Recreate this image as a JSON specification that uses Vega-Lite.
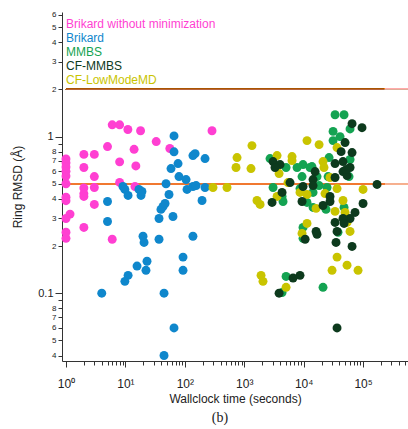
{
  "$schema": "https://vega.github.io/schema/vega-lite/v6.json",
  "width": 346,
  "height": 349,
  "autosize": "none",
  "padding": {"left": 62, "top": 12, "right": 0, "bottom": 68},
  "config": {
    "view": {"stroke": null},
    "font": "Liberation Sans",
    "axis": {"grid": false, "domainColor": "#333333", "tickColor": "#333333", "labelColor": "#222222", "titleColor": "#222222", "titleFont": "Liberation Sans", "labelFont": "Liberation Sans", "titleFontWeight": "normal", "titleFontSize": 12}
  },
  "title": {"text": "(b)", "orient": "bottom", "font": "Liberation Serif", "fontSize": 14, "fontWeight": "normal", "color": "#222222", "anchor": "middle", "dx": -15, "offset": 7},
  "data": {"values": [
    {"series": "Brikard without minimization", "time": 1, "rmsd": 0.72},
    {"series": "Brikard without minimization", "time": 1, "rmsd": 0.68},
    {"series": "Brikard without minimization", "time": 1, "rmsd": 0.64},
    {"series": "Brikard without minimization", "time": 1, "rmsd": 0.6},
    {"series": "Brikard without minimization", "time": 1, "rmsd": 0.56},
    {"series": "Brikard without minimization", "time": 1, "rmsd": 0.5},
    {"series": "Brikard without minimization", "time": 1, "rmsd": 0.41},
    {"series": "Brikard without minimization", "time": 1, "rmsd": 0.39},
    {"series": "Brikard without minimization", "time": 1.17, "rmsd": 0.32},
    {"series": "Brikard without minimization", "time": 1, "rmsd": 0.3},
    {"series": "Brikard without minimization", "time": 1, "rmsd": 0.245},
    {"series": "Brikard without minimization", "time": 1, "rmsd": 0.224},
    {"series": "Brikard without minimization", "time": 2, "rmsd": 0.77},
    {"series": "Brikard without minimization", "time": 2, "rmsd": 0.635},
    {"series": "Brikard without minimization", "time": 2, "rmsd": 0.47},
    {"series": "Brikard without minimization", "time": 2, "rmsd": 0.433},
    {"series": "Brikard without minimization", "time": 2, "rmsd": 0.415},
    {"series": "Brikard without minimization", "time": 2, "rmsd": 0.263},
    {"series": "Brikard without minimization", "time": 3, "rmsd": 0.77},
    {"series": "Brikard without minimization", "time": 3, "rmsd": 0.556},
    {"series": "Brikard without minimization", "time": 3, "rmsd": 0.473},
    {"series": "Brikard without minimization", "time": 3, "rmsd": 0.369},
    {"series": "Brikard without minimization", "time": 5, "rmsd": 0.864},
    {"series": "Brikard without minimization", "time": 6, "rmsd": 1.19},
    {"series": "Brikard without minimization", "time": 8, "rmsd": 1.19},
    {"series": "Brikard without minimization", "time": 11, "rmsd": 1.11},
    {"series": "Brikard without minimization", "time": 18, "rmsd": 1.09},
    {"series": "Brikard without minimization", "time": 8, "rmsd": 0.69},
    {"series": "Brikard without minimization", "time": 8, "rmsd": 0.51},
    {"series": "Brikard without minimization", "time": 14, "rmsd": 0.83},
    {"series": "Brikard without minimization", "time": 15, "rmsd": 0.65},
    {"series": "Brikard without minimization", "time": 14.5, "rmsd": 0.48},
    {"series": "Brikard without minimization", "time": 33, "rmsd": 0.93},
    {"series": "Brikard without minimization", "time": 56, "rmsd": 0.84},
    {"series": "Brikard without minimization", "time": 6, "rmsd": 0.221},
    {"series": "Brikard without minimization", "time": 287, "rmsd": 1.09},
    {"series": "Brikard", "time": 4, "rmsd": 0.1},
    {"series": "Brikard", "time": 5, "rmsd": 0.385},
    {"series": "Brikard", "time": 5, "rmsd": 0.287},
    {"series": "Brikard", "time": 9.1, "rmsd": 0.48},
    {"series": "Brikard", "time": 9.8, "rmsd": 0.46},
    {"series": "Brikard", "time": 11.1, "rmsd": 0.421},
    {"series": "Brikard", "time": 16.9, "rmsd": 0.46},
    {"series": "Brikard", "time": 18.3, "rmsd": 0.421},
    {"series": "Brikard", "time": 19, "rmsd": 0.446},
    {"series": "Brikard", "time": 19.8, "rmsd": 0.231},
    {"series": "Brikard", "time": 20.6, "rmsd": 0.211},
    {"series": "Brikard", "time": 15.7, "rmsd": 0.149},
    {"series": "Brikard", "time": 23.1, "rmsd": 0.16},
    {"series": "Brikard", "time": 22.2, "rmsd": 0.14},
    {"series": "Brikard", "time": 11.1, "rmsd": 0.13},
    {"series": "Brikard", "time": 9.8, "rmsd": 0.119},
    {"series": "Brikard", "time": 36.8, "rmsd": 0.221},
    {"series": "Brikard", "time": 36.8, "rmsd": 0.3},
    {"series": "Brikard", "time": 39.7, "rmsd": 0.343},
    {"series": "Brikard", "time": 43, "rmsd": 0.358},
    {"series": "Brikard", "time": 46.5, "rmsd": 0.374},
    {"series": "Brikard", "time": 54.2, "rmsd": 0.427},
    {"series": "Brikard", "time": 63.2, "rmsd": 0.309},
    {"series": "Brikard", "time": 48.3, "rmsd": 0.5},
    {"series": "Brikard", "time": 58.6, "rmsd": 0.625},
    {"series": "Brikard", "time": 76.9, "rmsd": 0.673},
    {"series": "Brikard", "time": 65.8, "rmsd": 1.01},
    {"series": "Brikard", "time": 65.8, "rmsd": 0.8},
    {"series": "Brikard", "time": 79.8, "rmsd": 0.556},
    {"series": "Brikard", "time": 105, "rmsd": 0.532},
    {"series": "Brikard", "time": 109, "rmsd": 0.46},
    {"series": "Brikard", "time": 137, "rmsd": 0.48},
    {"series": "Brikard", "time": 155, "rmsd": 0.487},
    {"series": "Brikard", "time": 137, "rmsd": 0.757},
    {"series": "Brikard", "time": 149, "rmsd": 0.779},
    {"series": "Brikard", "time": 219, "rmsd": 0.724},
    {"series": "Brikard", "time": 219, "rmsd": 0.473},
    {"series": "Brikard", "time": 195, "rmsd": 0.391},
    {"series": "Brikard", "time": 137, "rmsd": 0.231},
    {"series": "Brikard", "time": 93.3, "rmsd": 0.17},
    {"series": "Brikard", "time": 93.3, "rmsd": 0.14},
    {"series": "Brikard", "time": 65.8, "rmsd": 0.06},
    {"series": "Brikard", "time": 44.7, "rmsd": 0.04},
    {"series": "Brikard", "time": 44.7, "rmsd": 0.1},
    {"series": "MMBS", "time": 33800, "rmsd": 1.38},
    {"series": "MMBS", "time": 47900, "rmsd": 1.38},
    {"series": "MMBS", "time": 31300, "rmsd": 1.08},
    {"series": "MMBS", "time": 60400, "rmsd": 1.12},
    {"series": "MMBS", "time": 31300, "rmsd": 0.943},
    {"series": "MMBS", "time": 41000, "rmsd": 1.0},
    {"series": "MMBS", "time": 60400, "rmsd": 0.714},
    {"series": "MMBS", "time": 26800, "rmsd": 0.735},
    {"series": "MMBS", "time": 13800, "rmsd": 0.644},
    {"series": "MMBS", "time": 9770, "rmsd": 0.663},
    {"series": "MMBS", "time": 7750, "rmsd": 0.635},
    {"series": "MMBS", "time": 5060, "rmsd": 0.635},
    {"series": "MMBS", "time": 2720, "rmsd": 0.724},
    {"series": "MMBS", "time": 9400, "rmsd": 0.556},
    {"series": "MMBS", "time": 58100, "rmsd": 0.556},
    {"series": "MMBS", "time": 25800, "rmsd": 0.556},
    {"series": "MMBS", "time": 3060, "rmsd": 0.473},
    {"series": "MMBS", "time": 18200, "rmsd": 0.487},
    {"series": "MMBS", "time": 16800, "rmsd": 0.556},
    {"series": "MMBS", "time": 14400, "rmsd": 0.44},
    {"series": "MMBS", "time": 14400, "rmsd": 0.353},
    {"series": "MMBS", "time": 23800, "rmsd": 0.343},
    {"series": "MMBS", "time": 9770, "rmsd": 0.263},
    {"series": "MMBS", "time": 9770, "rmsd": 0.224},
    {"series": "MMBS", "time": 37900, "rmsd": 0.245},
    {"series": "MMBS", "time": 5060, "rmsd": 0.128},
    {"series": "MMBS", "time": 4330, "rmsd": 0.101},
    {"series": "MMBS", "time": 21200, "rmsd": 0.109},
    {"series": "MMBS", "time": 4330, "rmsd": 0.415},
    {"series": "MMBS", "time": 11400, "rmsd": 0.38},
    {"series": "MMBS", "time": 47900, "rmsd": 0.353},
    {"series": "MMBS", "time": 12800, "rmsd": 0.635},
    {"series": "MMBS", "time": 24800, "rmsd": 0.473},
    {"series": "MMBS", "time": 4500, "rmsd": 0.385},
    {"series": "MMBS", "time": 8690, "rmsd": 0.466},
    {"series": "CF-LowModeMD", "time": 298, "rmsd": 0.473},
    {"series": "CF-LowModeMD", "time": 513, "rmsd": 0.473},
    {"series": "CF-LowModeMD", "time": 757, "rmsd": 0.735},
    {"series": "CF-LowModeMD", "time": 728, "rmsd": 0.635},
    {"series": "CF-LowModeMD", "time": 1350, "rmsd": 0.876},
    {"series": "CF-LowModeMD", "time": 1300, "rmsd": 0.625},
    {"series": "CF-LowModeMD", "time": 1640, "rmsd": 0.391},
    {"series": "CF-LowModeMD", "time": 1850, "rmsd": 0.369},
    {"series": "CF-LowModeMD", "time": 3570, "rmsd": 0.757},
    {"series": "CF-LowModeMD", "time": 3860, "rmsd": 0.581},
    {"series": "CF-LowModeMD", "time": 6380, "rmsd": 0.746},
    {"series": "CF-LowModeMD", "time": 6380, "rmsd": 0.703},
    {"series": "CF-LowModeMD", "time": 3570, "rmsd": 0.415},
    {"series": "CF-LowModeMD", "time": 1920, "rmsd": 0.13},
    {"series": "CF-LowModeMD", "time": 2070, "rmsd": 0.119},
    {"series": "CF-LowModeMD", "time": 5060, "rmsd": 0.109},
    {"series": "CF-LowModeMD", "time": 11400, "rmsd": 0.943},
    {"series": "CF-LowModeMD", "time": 18200, "rmsd": 0.889},
    {"series": "CF-LowModeMD", "time": 21200, "rmsd": 0.693},
    {"series": "CF-LowModeMD", "time": 22000, "rmsd": 0.635},
    {"series": "CF-LowModeMD", "time": 27800, "rmsd": 0.548},
    {"series": "CF-LowModeMD", "time": 36500, "rmsd": 0.466},
    {"series": "CF-LowModeMD", "time": 46000, "rmsd": 0.391},
    {"series": "CF-LowModeMD", "time": 33800, "rmsd": 0.333},
    {"series": "CF-LowModeMD", "time": 53800, "rmsd": 0.283},
    {"series": "CF-LowModeMD", "time": 60400, "rmsd": 0.248},
    {"series": "CF-LowModeMD", "time": 36500, "rmsd": 0.17},
    {"series": "CF-LowModeMD", "time": 53800, "rmsd": 0.151},
    {"series": "CF-LowModeMD", "time": 82400, "rmsd": 0.14},
    {"series": "CF-LowModeMD", "time": 30100, "rmsd": 0.14},
    {"series": "CF-LowModeMD", "time": 11400, "rmsd": 0.279},
    {"series": "CF-LowModeMD", "time": 9400, "rmsd": 0.241},
    {"series": "CF-LowModeMD", "time": 100000, "rmsd": 0.46},
    {"series": "CF-LowModeMD", "time": 16200, "rmsd": 0.348},
    {"series": "CF-LowModeMD", "time": 11400, "rmsd": 0.427},
    {"series": "CF-LowModeMD", "time": 36500, "rmsd": 0.851},
    {"series": "CF-LowModeMD", "time": 22900, "rmsd": 0.433},
    {"series": "CF-LowModeMD", "time": 49800, "rmsd": 0.328},
    {"series": "CF-LowModeMD", "time": 5460, "rmsd": 0.509},
    {"series": "CF-LowModeMD", "time": 8690, "rmsd": 0.44},
    {"series": "CF-MMBS", "time": 65300, "rmsd": 1.21},
    {"series": "CF-MMBS", "time": 96000, "rmsd": 1.14},
    {"series": "CF-MMBS", "time": 49800, "rmsd": 0.916},
    {"series": "CF-MMBS", "time": 42700, "rmsd": 0.802},
    {"series": "CF-MMBS", "time": 65300, "rmsd": 0.791},
    {"series": "CF-MMBS", "time": 33800, "rmsd": 0.673},
    {"series": "CF-MMBS", "time": 46000, "rmsd": 0.693},
    {"series": "CF-MMBS", "time": 60400, "rmsd": 0.635},
    {"series": "CF-MMBS", "time": 46000, "rmsd": 0.598},
    {"series": "CF-MMBS", "time": 53800, "rmsd": 0.564},
    {"series": "CF-MMBS", "time": 15600, "rmsd": 0.598},
    {"series": "CF-MMBS", "time": 33800, "rmsd": 0.548},
    {"series": "CF-MMBS", "time": 14400, "rmsd": 0.532},
    {"series": "CF-MMBS", "time": 3060, "rmsd": 0.693},
    {"series": "CF-MMBS", "time": 4010, "rmsd": 0.663},
    {"series": "CF-MMBS", "time": 3300, "rmsd": 0.635},
    {"series": "CF-MMBS", "time": 5900, "rmsd": 0.509},
    {"series": "CF-MMBS", "time": 9770, "rmsd": 0.48},
    {"series": "CF-MMBS", "time": 14400, "rmsd": 0.487},
    {"series": "CF-MMBS", "time": 172000, "rmsd": 0.495},
    {"series": "CF-MMBS", "time": 4330, "rmsd": 0.44},
    {"series": "CF-MMBS", "time": 27800, "rmsd": 0.415},
    {"series": "CF-MMBS", "time": 27800, "rmsd": 0.385},
    {"series": "CF-MMBS", "time": 2940, "rmsd": 0.38},
    {"series": "CF-MMBS", "time": 9400, "rmsd": 0.385},
    {"series": "CF-MMBS", "time": 21200, "rmsd": 0.363},
    {"series": "CF-MMBS", "time": 100000, "rmsd": 0.374},
    {"series": "CF-MMBS", "time": 73300, "rmsd": 0.328},
    {"series": "CF-MMBS", "time": 60400, "rmsd": 0.3},
    {"series": "CF-MMBS", "time": 46000, "rmsd": 0.3},
    {"series": "CF-MMBS", "time": 47900, "rmsd": 0.279},
    {"series": "CF-MMBS", "time": 33800, "rmsd": 0.283},
    {"series": "CF-MMBS", "time": 36500, "rmsd": 0.248},
    {"series": "CF-MMBS", "time": 16200, "rmsd": 0.248},
    {"series": "CF-MMBS", "time": 16800, "rmsd": 0.238},
    {"series": "CF-MMBS", "time": 10600, "rmsd": 0.221},
    {"series": "CF-MMBS", "time": 35100, "rmsd": 0.211},
    {"series": "CF-MMBS", "time": 65300, "rmsd": 0.199},
    {"series": "CF-MMBS", "time": 8690, "rmsd": 0.13},
    {"series": "CF-MMBS", "time": 6640, "rmsd": 0.125},
    {"series": "CF-MMBS", "time": 3860, "rmsd": 0.1},
    {"series": "CF-MMBS", "time": 36500, "rmsd": 0.06},
    {"series": "CF-MMBS", "time": 51800, "rmsd": 0.616}
  ]},
  "layer": [
    {
      "mark": {"type": "rule", "color": "#b8653f", "strokeWidth": 1},
      "encoding": {"x": {"datum": 1, "type": "quantitative"}, "x2": {"datum": 234000}, "y": {"datum": 2, "type": "quantitative"}}
    },
    {
      "mark": {"type": "rule", "color": "#dfae98", "strokeWidth": 1},
      "encoding": {"x": {"datum": 234000, "type": "quantitative"}, "x2": {"datum": 571000}, "y": {"datum": 2, "type": "quantitative"}}
    },
    {
      "mark": {"type": "rule", "color": "#f07830", "strokeWidth": 1.2},
      "encoding": {"x": {"datum": 1, "type": "quantitative"}, "x2": {"datum": 234000}, "y": {"datum": 0.5, "type": "quantitative"}}
    },
    {
      "mark": {"type": "rule", "color": "#f5b090", "strokeWidth": 1.2},
      "encoding": {"x": {"datum": 234000, "type": "quantitative"}, "x2": {"datum": 571000}, "y": {"datum": 0.5, "type": "quantitative"}}
    },
    {
      "mark": {"type": "point", "filled": true, "opacity": 1, "size": 80, "shape": "circle"},
      "encoding": {
        "x": {
          "field": "time", "type": "quantitative",
          "scale": {"type": "log", "domain": [0.857, 571000], "nice": false},
          "axis": {
            "title": "Wallclock time (seconds)",
            "values": [1,2,3,4,5,6,7,8,9,10,20,30,40,50,60,70,80,90,100,200,300,400,500,600,700,800,900,1000,2000,3000,4000,5000,6000,7000,8000,9000,10000,20000,30000,40000,50000,60000,70000,80000,90000,100000,200000,300000,400000,500000],
            "labelExpr": "abs(log(datum.value)/LN10 - round(log(datum.value)/LN10)) < 0.000001 ? '10' + ['⁰','¹','²','³','⁴','⁵','⁶'][round(log(datum.value)/LN10)] : ''",
            "tickSize": {"condition": {"test": "abs(log(datum.value)/LN10 - round(log(datum.value)/LN10)) < 0.000001", "value": 6}, "value": 4},
            "labelFontSize": 12,
            "labelPadding": 11,
            "titlePadding": 4,
            "labelFlush": false,
            "labelOverlap": false
          }
        },
        "y": {
          "field": "rmsd", "type": "quantitative",
          "scale": {"type": "log", "domain": [0.0369, 6.25], "nice": false},
          "axis": {
            "title": "Ring RMSD (Å)",
            "values": [0.04,0.05,0.06,0.07,0.08,0.09,0.1,0.2,0.3,0.4,0.5,0.6,0.7,0.8,0.9,1,2,3,4,5,6],
            "labelExpr": "datum.value == 1 ? '1' : datum.value == 0.1 ? '0.1' : (round(datum.value / pow(10, floor(log(datum.value)/LN10 + 0.000001))) == 9 ? '' : '' + round(datum.value / pow(10, floor(log(datum.value)/LN10 + 0.000001))))",
            "labelFontSize": {"condition": {"test": "datum.value == 1 || datum.value == 0.1", "value": 11}, "value": 8},
            "tickSize": {"condition": {"test": "datum.value == 1 || datum.value == 0.1", "value": 7}, "value": 4},
            "labelPadding": 2,
            "titlePadding": 13,
            "labelFlush": false,
            "labelOverlap": false
          }
        },
        "color": {
          "field": "series", "type": "nominal",
          "scale": {
            "domain": ["Brikard without minimization", "Brikard", "MMBS", "CF-MMBS", "CF-LowModeMD"],
            "range": ["#ff3fd2", "#0f87cc", "#14a352", "#0d3a1d", "#c9c400"]
          },
          "legend": {
            "title": null,
            "orient": "top-left",
            "offset": 6,
            "padding": 0,
            "symbolType": "circle",
            "symbolSize": 0.01,
            "symbolOpacity": 0,
            "symbolStrokeWidth": 0,
            "labelOffset": -14,
            "labelFontSize": 12,
            "labelLimit": 300,
            "rowPadding": 2,
            "encode": {"labels": {"update": {"fill": {"scale": "color", "field": "value"}}}}
          }
        }
      }
    }
  ]
}
